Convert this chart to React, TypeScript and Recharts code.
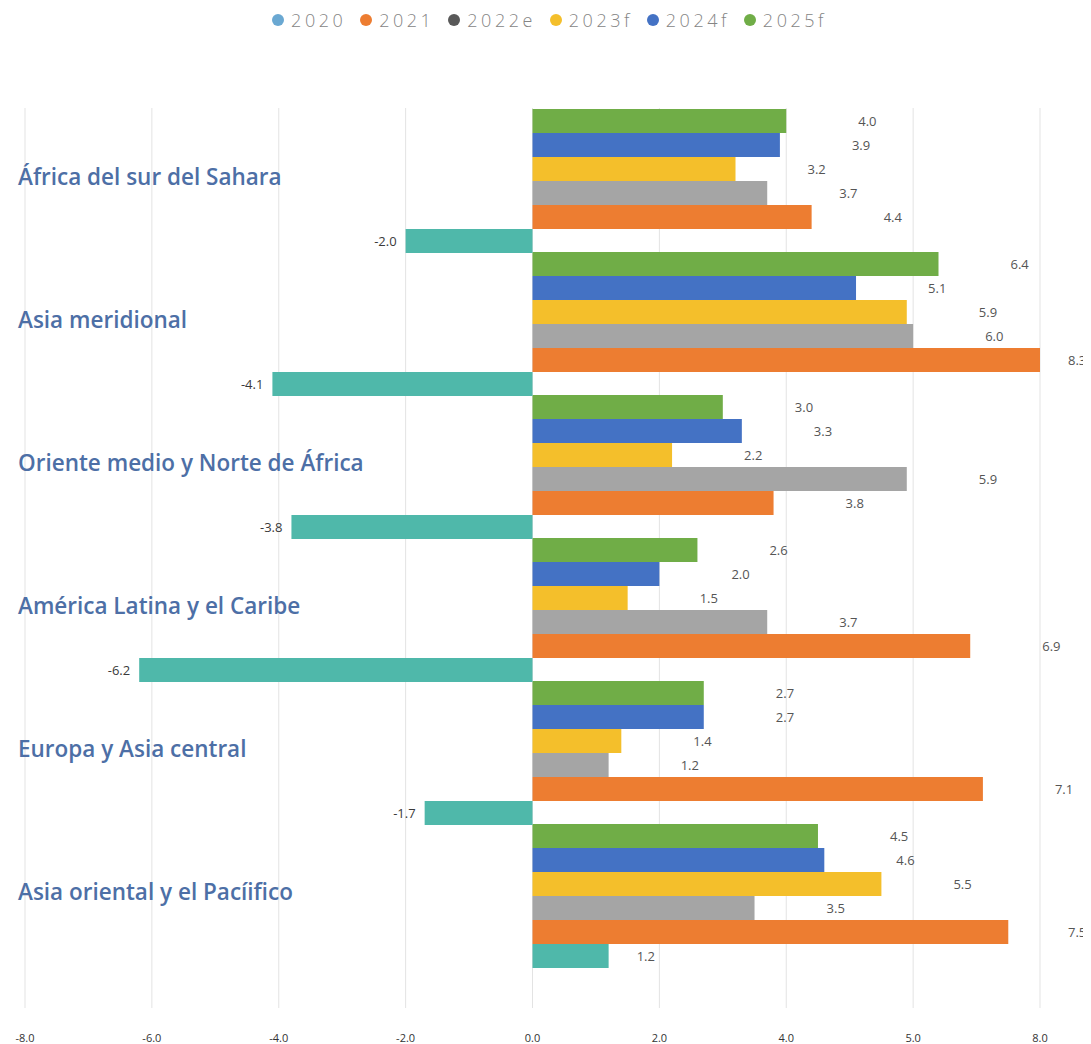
import React from "react";
import { BarChart, Bar, XAxis, YAxis, CartesianGrid, Legend, LabelList } from "recharts";

const CATEGORIES = [
  "África del sur del Sahara",
  "Asia meridional",
  "Oriente medio y Norte de África",
  "América Latina y el Caribe",
  "Europa y Asia central",
  "Asia oriental y el Pacíifico",
];

const SERIES_NAMES = ["2020", "2021", "2022e", "2023f", "2024f", "2025f"];

const V2020 = [-2.0, -4.1, -3.8, -6.2, -1.7, 1.2];
const V2021 = [4.4, 8.3, 3.8, 6.9, 7.1, 7.5];
const V2022E = [3.7, 6.0, 5.9, 3.7, 1.2, 3.5];
const V2023F = [3.2, 5.9, 2.2, 1.5, 1.4, 5.5];
const V2024F = [3.9, 5.1, 3.3, 2.0, 2.7, 4.6];
const V2025F = [4.0, 6.4, 3.0, 2.6, 2.7, 4.5];

const X_TICKS = [-8, -6, -4, -2, 0, 2, 4, 6, 8];
const X_TICK_LABELS = ["-8.0", "-6.0", "-4.0", "-2.0", "0.0", "2.0", "4.0", "5.0", "8.0"];

const BAR_COLORS: Record<string, string> = {
  "2020": "#4fb8aa",
  "2021": "#ed7d31",
  "2022e": "#a5a5a5",
  "2023f": "#f4bf2b",
  "2024f": "#4472c4",
  "2025f": "#70ad47",
};
const LEGEND_COLORS: Record<string, string> = {
  "2020": "#6aa8d2",
  "2021": "#ed7d31",
  "2022e": "#595959",
  "2023f": "#f4bf2b",
  "2024f": "#4472c4",
  "2025f": "#70ad47",
};

const SERIES_VALUES: Record<string, number[]> = {
  "2020": V2020,
  "2021": V2021,
  "2022e": V2022E,
  "2023f": V2023F,
  "2024f": V2024F,
  "2025f": V2025F,
};

const data = CATEGORIES.map((name, i) => {
  const row: Record<string, string | number> = { name };
  SERIES_NAMES.forEach((s) => {
    row[s] = SERIES_VALUES[s][i];
  });
  return row;
});

const CHART_W = 1083;
const CHART_H = 1036;
const LABEL_FONT = "'Open Sans', 'Noto Sans', sans-serif";

const makeLabel = (posOffset: number, negOffset: number) => (props: any) => {
  const vb = props.viewBox || {};
  const x = Number(props.x ?? vb.x);
  const y = Number(props.y ?? vb.y);
  const w = Number(props.width ?? vb.width);
  const h = Number(props.height ?? vb.height);
  const v = Number(props.value);
  if (!isFinite(x) || !isFinite(v)) return null;
  const left = Math.min(x, x + w);
  const right = Math.max(x, x + w);
  const cy = y + h / 2;
  const txt = v.toFixed(1);
  if (v < 0) {
    return (
      <text x={left - negOffset} y={cy} dy="0.35em" textAnchor="end" fontSize={13} fill="#3a3a3a" fontFamily={LABEL_FONT}>
        {txt}
      </text>
    );
  }
  const lx = Math.min(right + posOffset, CHART_W - 23);
  return (
    <text x={lx} y={cy} dy="0.35em" textAnchor="start" fontSize={13} fill="#555" fontFamily={LABEL_FONT}>
      {txt}
    </text>
  );
};

const CategoryTick = (props: any) => {
  const { x, y, payload } = props;
  return (
    <text x={x} y={y - 2} dy="0.35em" textAnchor="start" fontSize={22.5} fontWeight={600} fill="#4d6fa6" fontFamily={LABEL_FONT}>
      {payload.value}
    </text>
  );
};

const XTick = (props: any) => {
  const { x, y, payload } = props;
  const idx = X_TICKS.indexOf(payload.value);
  const label = idx >= 0 ? X_TICK_LABELS[idx] : String(payload.value);
  return (
    <text x={x} y={y} dy="0.71em" textAnchor="middle" fontSize={11} fill="#333" fontFamily={LABEL_FONT}>
      {label}
    </text>
  );
};

const LegendContent = () => (
  <div
    style={{
      height: 30,
      display: "flex",
      justifyContent: "center",
      alignItems: "flex-start",
      fontFamily: LABEL_FONT,
      fontWeight: 300,
      fontSize: 18,
      color: "#858585",
      letterSpacing: 3.5,
      lineHeight: "20px",
    }}
  >
    {SERIES_NAMES.map((s) => (
      <div key={s} style={{ display: "flex", alignItems: "center", margin: "0 7px" }}>
        <span
          style={{
            display: "inline-block",
            width: 12,
            height: 12,
            borderRadius: "50%",
            background: LEGEND_COLORS[s],
            marginRight: 7,
          }}
        />
        <span>{s}</span>
      </div>
    ))}
  </div>
);

const BAR_ORDER = [...SERIES_NAMES].reverse();

export default function App() {
  return (
    <div style={{ width: CHART_W, height: CHART_H, background: "#fff" }}>
      <BarChart
        width={CHART_W}
        height={CHART_H}
        data={data}
        layout="vertical"
        margin={{ top: 70, right: 51, bottom: 0, left: 0 }}
        barCategoryGap={1}
        barGap={0}
      >
        <CartesianGrid horizontal={false} vertical={true} stroke="#e3e3e3" />
        <XAxis
          type="number"
          domain={[-8, 8]}
          ticks={X_TICKS}
          interval={0}
          axisLine={false}
          tickLine={false}
          tickMargin={20}
          height={36}
          tick={<XTick />}
          allowDataOverflow
        />
        <YAxis
          type="category"
          dataKey="name"
          width={17}
          axisLine={false}
          tickLine={false}
          tickSize={0}
          tickMargin={7}
          padding={{ top: 0, bottom: 42 }}
          tick={<CategoryTick />}
          interval={0}
        />
        <Legend
          verticalAlign="top"
          height={30}
          wrapperStyle={{ top: 2, left: 0, width: CHART_W }}
          content={<LegendContent />}
        />
        {BAR_ORDER.map((s) => (
          <Bar key={s} dataKey={s} name={s} fill={BAR_COLORS[s]} isAnimationActive={false}>
            <LabelList dataKey={s} content={s === "2020" ? makeLabel(28, 9) : makeLabel(72, 9)} />
          </Bar>
        ))}
      </BarChart>
    </div>
  );
}
